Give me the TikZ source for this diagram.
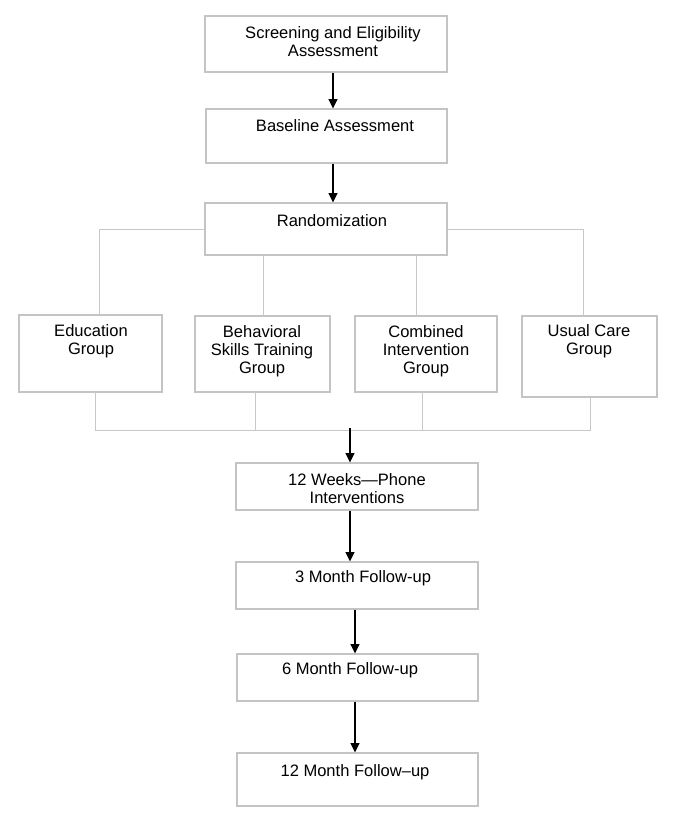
\documentclass[tikz,border=0pt]{standalone}
\usepackage{fontspec}
\setmainfont{Liberation Sans}
\usetikzlibrary{arrows.meta}
\definecolor{boxgray}{HTML}{C4C4C4}
\definecolor{linegray}{HTML}{C8C8C8}
\begin{document}
\begin{tikzpicture}[x=0.75pt,y=-0.75pt,
  box/.style={draw=boxgray,line width=0.8pt,fill=white,inner sep=0pt},
  txt/.style={font=\fontsize{12.4pt}{13.6pt}\selectfont,align=center,inner sep=0pt},
  conn/.style={draw=linegray,line width=0.75pt},
  arr/.style={draw=black,line width=1.2pt,-{Triangle[length=7pt,width=6.5pt]}}]
\fill[white] (0,0) rectangle (685,828);
\useasboundingbox (0,0) rectangle (685,828);
% top boxes
\node[box,minimum width=242*0.75pt,minimum height=56*0.75pt] (scr) at (326,44) {};
\node[txt] (scrt) at (333,42) {Screening and Eligibility\\Assessment};
\node[box,minimum width=241*0.75pt,minimum height=54*0.75pt] (base) at (326.5,136) {};
\node[txt] (baset) at (335,126) {Baseline Assessment};
\node[box,minimum width=242*0.75pt,minimum height=52*0.75pt] (rand) at (326,229) {};
\node[txt] (randt) at (332,221) {Randomization};
% group boxes
\node[box,minimum width=143*0.75pt,minimum height=77*0.75pt] (edu) at (90.5,353.5) {};
\node[txt] (edut) at (91,341) {Education\\Group};
\node[box,minimum width=135*0.75pt,minimum height=76*0.75pt] (beh) at (262.5,354) {};
\node[txt] (beht) at (262,351) {Behavioral\\Skills Training\\Group};
\node[box,minimum width=142*0.75pt,minimum height=76*0.75pt] (comb) at (426,354) {};
\node[txt] (combt) at (426,351) {Combined\\Intervention\\Group};
\node[box,minimum width=135*0.75pt,minimum height=81*0.75pt] (usual) at (589.5,356.5) {};
\node[txt] (usualt) at (589,341) {Usual Care\\Group};
% lower boxes
\node[box,minimum width=242*0.75pt,minimum height=47*0.75pt] (weeks) at (357,486.5) {};
\node[txt] (weekst) at (357,489) {12 Weeks\textemdash Phone\\Interventions};
\node[box,minimum width=242*0.75pt,minimum height=47*0.75pt] (m3) at (357,585.5) {};
\node[txt] (m3t) at (363,578) {3 Month Follow-up};
\node[box,minimum width=241*0.75pt,minimum height=47*0.75pt] (m6) at (357.5,677.5) {};
\node[txt] (m6t) at (350,670) {6 Month Follow-up};
\node[box,minimum width=241*0.75pt,minimum height=53*0.75pt] (m12) at (357.5,779.5) {};
\node[txt] (m12t) at (355,772) {12 Month Follow\textendash up};
% helper x positions
\coordinate (xa) at (333,0);
\coordinate (xb) at (350,0);
\coordinate (xc) at (355,0);
\coordinate (eTop) at (99,315);
\coordinate (bTop) at (263,316);
\coordinate (cTop) at (416,316);
\coordinate (uTop) at (583,316);
\coordinate (eBot) at (95,392);
\coordinate (bBot) at (255,392);
\coordinate (cBot) at (422,392);
\coordinate (uBot) at (590,397);
\coordinate (eJoin) at (95,430);
\coordinate (uJoin) at (590,430);
\coordinate (merge) at (350,428);
% tree connectors
\draw[conn] (rand.west) -| (eTop);
\draw[conn] (rand.east) -| (uTop);
\draw[conn] (rand.south -| bTop) -- (bTop);
\draw[conn] (rand.south -| cTop) -- (cTop);
\draw[conn] (eBot) -- (eJoin) -- (uJoin) -- (uBot);
\draw[conn] (bBot) -- (bBot |- eJoin);
\draw[conn] (cBot) -- (cBot |- eJoin);
% arrows
\draw[arr] (scr.south -| xa) -- (base.north -| xa);
\draw[arr] (base.south -| xa) -- (rand.north -| xa);
\draw[arr] (merge) -- (weeks.north -| merge);
\draw[arr] (weeks.south -| xb) -- (m3.north -| xb);
\draw[arr] (m3.south -| xc) -- (m6.north -| xc);
\draw[arr] (m6.south -| xc) -- (m12.north -| xc);
\end{tikzpicture}
\end{document}
